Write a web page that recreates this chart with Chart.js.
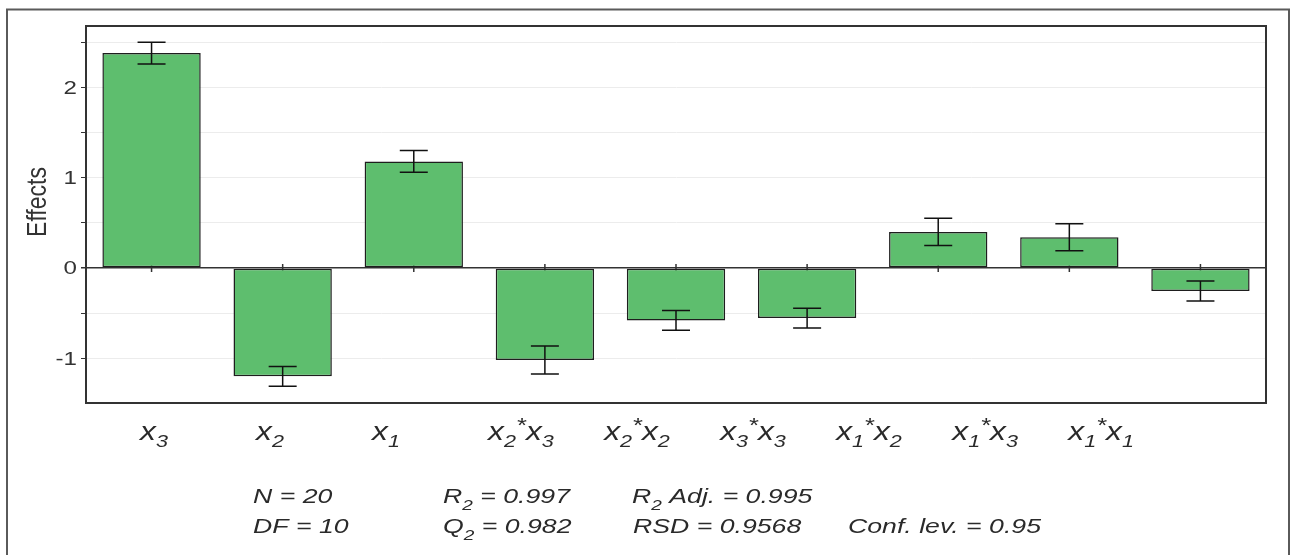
<!DOCTYPE html>
<html>
<head>
<meta charset="utf-8">
<script src="https://cdn.jsdelivr.net/npm/chart.js@4"></script>
<style>
  html, body { margin: 0; padding: 0; background: #fff; }
</style>
</head>
<body>
<canvas id="effectsChart" width="1292" height="555"></canvas>
<script>
// "_" marks the next char as subscript, "*" is drawn small and raised
const terms = ['x_3', 'x_2', 'x_1', 'x_2*x_3', 'x_2*x_2', 'x_3*x_3', 'x_1*x_2', 'x_1*x_3', 'x_1*x_1'];
const effects = [2.38, -1.20, 1.18, -1.02, -0.58, -0.555, 0.40, 0.34, -0.255];
const errors = [0.12, 0.11, 0.12, 0.155, 0.11, 0.11, 0.15, 0.15, 0.11];
const statsRow1 = ['N = 20', 'R_2 = 0.997', 'R_2 Adj. = 0.995'];
const statsRow2 = ['DF = 10', 'Q_2 = 0.982', 'RSD = 0.9568', 'Conf. lev. = 0.95'];
const yTitle = 'Effects';

const FONT = '"Liberation Sans", Arial, Helvetica, sans-serif';
const STRETCH = 1.27; // the original picture is squashed wider than normal text
// term labels sit on a tighter spacing than the bars, drifting left
const LABEL_STEP = 0.885;
const LABEL_SHIFT = -0.088;

function richParts(str, big, small, subDy, supDy) {
  const parts = [];
  for (let i = 0; i < str.length; i++) {
    const c = str[i];
    if (c === '_') {
      parts.push({ t: str[++i], size: small, dy: subDy });
    } else if (c === '*') {
      parts.push({ t: '*', size: small + 3, dy: supDy });
    } else {
      const last = parts[parts.length - 1];
      if (last && last.size === big && last.dy === 0) last.t += c;
      else parts.push({ t: c, size: big, dy: 0 });
    }
  }
  return parts;
}

function drawRich(ctx, str, x, y, big, small, subDy, supDy) {
  ctx.save();
  ctx.translate(x, y);
  ctx.scale(STRETCH, 1);
  ctx.textAlign = 'left';
  ctx.textBaseline = 'alphabetic';
  ctx.fillStyle = '#2a2a2a';
  let cx = 0;
  richParts(str, big, small, subDy, supDy).forEach(p => {
    ctx.font = `italic ${p.size}px ${FONT}`;
    ctx.fillText(p.t, cx, p.dy);
    cx += ctx.measureText(p.t).width;
  });
  ctx.restore();
}

const decorations = {
  id: 'decorations',
  beforeDatasetsDraw(chart) {
    // little ticks on the zero line at each term
    const { ctx, scales: { x, y } } = chart;
    const y0 = y.getPixelForValue(0);
    ctx.save();
    ctx.strokeStyle = '#333';
    ctx.lineWidth = 1.5;
    terms.forEach((t, i) => {
      const px = x.getPixelForValue(i);
      ctx.beginPath();
      ctx.moveTo(px, y0 - 4);
      ctx.lineTo(px, y0 + 4);
      ctx.stroke();
    });
    ctx.restore();
  },
  afterDatasetsDraw(chart) {
    const { ctx, chartArea: a, scales: { x, y } } = chart;
    ctx.save();
    ctx.strokeStyle = '#111';
    ctx.lineWidth = 1.5;
    effects.forEach((v, i) => {
      const px = x.getPixelForValue(i);
      const hi = y.getPixelForValue(v + errors[i]);
      const lo = y.getPixelForValue(v - errors[i]);
      ctx.beginPath();
      ctx.moveTo(px, hi); ctx.lineTo(px, lo);
      ctx.moveTo(px - 14, hi); ctx.lineTo(px + 14, hi);
      ctx.moveTo(px - 14, lo); ctx.lineTo(px + 14, lo);
      ctx.stroke();
    });
    ctx.strokeStyle = '#333';
    ctx.lineWidth = 2;
    ctx.strokeRect(a.left, a.top, a.right - a.left, a.bottom - a.top);
    ctx.restore();
  },
  afterDraw(chart) {
    const { ctx, scales: { x, y } } = chart;

    // y tick labels, integers only
    ctx.save();
    ctx.fillStyle = '#333';
    ctx.font = `19px ${FONT}`;
    ctx.textAlign = 'right';
    ctx.textBaseline = 'middle';
    y.ticks.filter(t => Number.isInteger(t.value)).forEach(t => {
      ctx.save();
      ctx.translate(77, y.getPixelForValue(t.value) + 1);
      ctx.scale(STRETCH, 1);
      ctx.fillText(String(t.value), 0, 0);
      ctx.restore();
    });

    // y title
    ctx.translate(38, 202);
    ctx.rotate(-Math.PI / 2);
    ctx.scale(1, 1.2);
    ctx.font = `23px ${FONT}`;
    ctx.textAlign = 'center';
    ctx.fillText(yTitle, 0, 0);
    ctx.restore();

    // term labels, left edge placed along the category scale
    terms.forEach((t, i) => {
      const px = x.getPixelForValue(LABEL_SHIFT + LABEL_STEP * i);
      drawRich(ctx, t, px, 440, 25, 17, 7, -8);
    });

    // model statistics
    const col1 = [253, 443, 632];
    const col2 = [253, 443, 633, 848];
    statsRow1.forEach((s, i) => drawRich(ctx, s, col1[i], 503, 21, 15, 7, -6));
    statsRow2.forEach((s, i) => drawRich(ctx, s, col2[i], 533, 21, 15, 7, -6));

    // outer frame
    ctx.save();
    ctx.strokeStyle = '#5a5a5a';
    ctx.lineWidth = 2;
    ctx.strokeRect(7, 9.5, 1282, 600);
    ctx.restore();
  }
};

new Chart(document.getElementById('effectsChart'), {
  type: 'bar',
  data: {
    labels: terms,
    datasets: [{
      data: effects,
      backgroundColor: '#5ebe6e',
      borderColor: '#1e1e1e',
      borderWidth: 1.5,
      borderSkipped: false,
      barPercentage: 0.75,
      categoryPercentage: 1
    }]
  },
  options: {
    responsive: false,
    animation: false,
    devicePixelRatio: 1,
    layout: { padding: { left: 0, top: 26, right: 26, bottom: 152 } },
    plugins: { legend: { display: false }, tooltip: { enabled: false } },
    scales: {
      x: { type: 'category', display: false, offset: true },
      y: {
        min: -1.495,
        max: 2.68,
        afterFit: s => { s.width = 86; },
        afterBuildTicks: s => {
          s.ticks = s.ticks.filter(t => t.value >= s.min && Math.abs(t.value * 2 - Math.round(t.value * 2)) < 1e-6);
        },
        ticks: { stepSize: 0.5, display: false },
        grid: {
          color: c => (c.tick && c.tick.value === 0 ? '#333' : '#ececec'),
          lineWidth: c => (c.tick && c.tick.value === 0 ? 1.5 : 1),
          tickColor: '#333',
          tickLength: 5,
          drawTicks: true
        },
        border: { display: true, color: '#333', width: 2 }
      }
    }
  },
  plugins: [decorations]
});
</script>
</body>
</html>
